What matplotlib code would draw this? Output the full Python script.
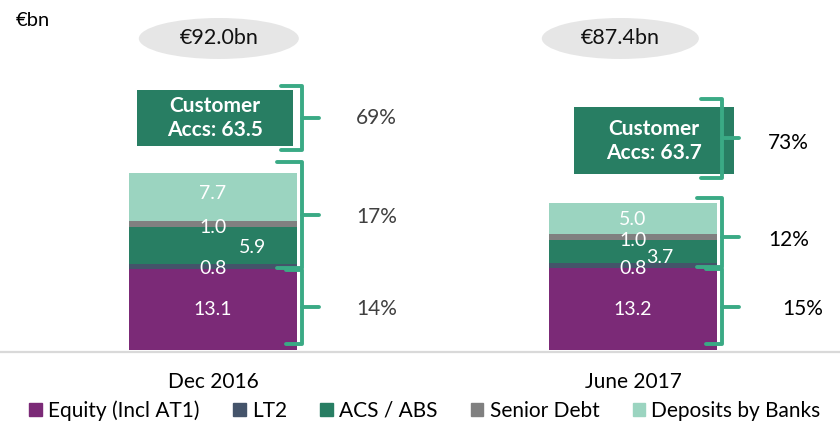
import matplotlib.pyplot as plt
from matplotlib.patches import Rectangle, Ellipse, Patch

plt.rcParams['font.family'] = ['Lato', 'DejaVu Sans']

# data
periods = ['Dec 2016', 'June 2017']
series = ['Equity (Incl AT1)', 'LT2', 'ACS / ABS', 'Senior Debt', 'Deposits by Banks']
equity = [13.1, 13.2]
lt2 = [0.8, 0.8]
acs_abs = [5.9, 3.7]
senior_debt = [1.0, 1.0]
deposits = [7.7, 5.0]
customer_accs = [63.5, 63.7]
totals = ['€92.0bn', '€87.4bn']
pct_customer = ['69%', '73%']
pct_wholesale = ['17%', '12%']
pct_equity = ['14%', '15%']

colors = ['#7b2a77', '#44546a', '#287e63', '#808080', '#9bd4c0']
brace_col = '#3aaa85'

fig = plt.figure(figsize=(8.4, 4.24), dpi=100)
ax = fig.add_axes([0, 0, 1, 1])
ax.set_xlim(-0.507, 1.493)
ax.set_ylim(-11.9, 56.4)
ax.axis('off')

x = [0, 1]
w = 0.4
stack = [equity, lt2, acs_abs, senior_debt, deposits]
bottom = [0.0, 0.0]
seg_mid = []
for vals, c in zip(stack, colors):
    ax.bar(x, vals, w, bottom=bottom, color=c, linewidth=0)
    seg_mid.append([b + v / 2 for b, v in zip(bottom, vals)])
    bottom = [b + v for b, v in zip(bottom, vals)]
bar_top = bottom

# baseline
ax.axhline(-0.3, color='#d9d9d9', lw=1.6, zorder=0)

# value labels inside the bars
lab_kw = dict(color='white', fontsize=14, ha='center', va='center')
for i in range(2):
    ax.text(x[i], seg_mid[0][i], f'{equity[i]:.1f}', **lab_kw)
    ax.text(x[i], equity[i], f'{lt2[i]:.1f}', **lab_kw)
    ax.text(x[i] + (0.095 if i == 0 else 0.065), seg_mid[2][i] - (0.3 if i == 0 else 1.0),
            f'{acs_abs[i]:.1f}', **lab_kw)
    ax.text(x[i], seg_mid[3][i] - 0.5, f'{senior_debt[i]:.1f}', **lab_kw)
    ax.text(x[i], seg_mid[4][i] + (0.5 if i == 0 else -0.2), f'{deposits[i]:.1f}', **lab_kw)


def brace(y0, y1, xl, xr, xt, ym=None):
    if ym is None:
        ym = (y0 + y1) / 2
    kw = dict(color=brace_col, lw=2.8, solid_joinstyle='round',
              solid_capstyle='round', zorder=5)
    ax.plot([xl, xr, xr, xt], [y1, y1, ym, ym], **kw)
    ax.plot([xr, xr, xl], [ym, y0, y0], **kw)


# customer account boxes (not to scale)
box_gap = [4.4, 4.6]
box_h = [9.0, 10.8]
box_x = [[-0.18, 0.19], [0.86, 1.24]]
pct_x = [[0.39, 0.39, 0.39], [1.37, 1.37, 1.405]]
pct_col = ['#404040', '#000000']
for i in range(2):
    b0 = bar_top[i] + box_gap[i]
    b1 = b0 + box_h[i]
    ax.add_patch(Rectangle((box_x[i][0], b0), box_x[i][1] - box_x[i][0], box_h[i],
                           color=colors[2], lw=0, zorder=3))
    ax.text((box_x[i][0] + box_x[i][1]) / 2, (b0 + b1) / 2,
            f'Customer\nAccs: {customer_accs[i]:.1f}', color='white', fontsize=15,
            fontweight='bold', ha='center', va='center', linespacing=1.2, zorder=4)

    xr = x[i] + w / 2 + 0.013
    xl = xr - 0.04
    xt = xr + 0.04
    brace(b0 - 0.6, b1 + (0.6 if i == 0 else 1.4), xl - 0.01, xr, xt)
    mid_top = bar_top[i] + (1.8 if i == 0 else 0.8)
    mid_y = (equity[i] + mid_top) / 2 - (0 if i == 0 else 0.7)
    brace(equity[i] + 0.15, mid_top, xl - 0.02, xr, xt, mid_y)
    brace(1.0, equity[i] - 0.15, xl, xr, xt)

    ax.text(pct_x[i][0], (b0 + b1) / 2 - (0 if i == 0 else 0.4), pct_customer[i],
            fontsize=15, color=pct_col[i], ha='center', va='center')
    ax.text(pct_x[i][1], mid_y - (0.2 if i == 0 else 0.4), pct_wholesale[i], fontsize=15,
            color=pct_col[i], ha='center', va='center')
    ax.text(pct_x[i][2], equity[i] / 2 + 0.1, pct_equity[i], fontsize=15, color=pct_col[i],
            ha='center', va='center')

# total ellipses
ell_x = [0.014, 0.97]
ell_w = [0.381, 0.374]
for i in range(2):
    ax.add_patch(Ellipse((ell_x[i], 50.2), ell_w[i], 6.6, color='#e6e6e6', lw=0))
    ax.text(ell_x[i], 50.2, totals[i], fontsize=15.5, ha='center', va='center', color='#111111')

ax.text(-0.47, 53.1, '€bn', fontsize=14.5, ha='left', va='center')

# category labels
for i in range(2):
    ax.text(x[i], -5.1, periods[i], fontsize=15, ha='center', va='center')

handles = [Patch(color=c) for c in colors]
fig.legend(handles, series, loc='center', bbox_to_anchor=(0.506, 0.032), ncol=5,
           frameon=False, fontsize=15, handlelength=0.6, handleheight=0.6,
           handletextpad=0.3, columnspacing=1.6, borderpad=0)

fig.savefig('out.png', dpi=100)
